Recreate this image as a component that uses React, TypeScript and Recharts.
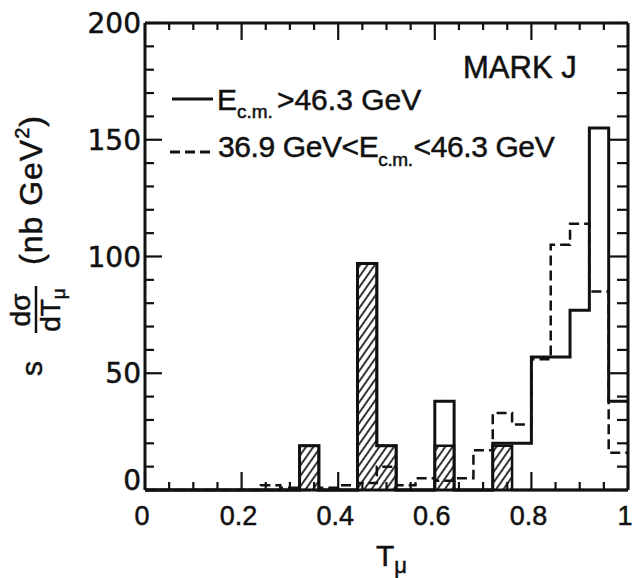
import React from "react";
import { ComposedChart, Line, Area, XAxis, YAxis, Legend, Label } from "recharts";

const W = 635;
const H = 578;
const INK = "#111";
const FONT = "'Liberation Sans', Arial, sans-serif";

// chart layout (the plot box below follows from these)
const MARGIN = { top: 22, right: 6, bottom: 0, left: 0 };
const LEFT_W = 145;
const RIGHT_W = 1;
const BOTTOM_H = 88;
const TOP_H = 1;
const PLOT = {
  left: MARGIN.left + LEFT_W,
  right: W - MARGIN.right - RIGHT_W,
  top: MARGIN.top + TOP_H,
  bottom: H - MARGIN.bottom - BOTTOM_H,
};
const X_MAX = 1;
const Y_MAX = 200;

// lower edge of each T_mu bin (bins are 0.04 wide above 0.2)
const binStart = [0, 0.2, 0.24, 0.28, 0.32, 0.36, 0.4, 0.44, 0.48, 0.52, 0.56, 0.6, 0.64, 0.68, 0.72, 0.76, 0.8, 0.84, 0.88, 0.92, 0.96];
const binEnd = 1;
// E_cm > 46.3 GeV (solid outline)
const highE = [0, 0, 0, 0, 19, 0, 0, 97, 19, 0, 0, 38, 0, 0, 20, 20, 57, 57, 77, 155, 38];
// hatched part
const hatched = [0, 0, 0, 0, 19, 0, 0, 97, 19, 0, 0, 19, 0, 0, 19, 0, 0, 0, 0, 0, 0];
// 36.9 GeV < E_cm < 46.3 GeV (dashed)
const midE = [0, 0, 2, 1, 0, 1, 2, 3, 10, 2, 5, 4, 5, 17, 33, 28, 56, 105, 114, 85, 16];

const xTicks = [0, 0.05, 0.1, 0.15, 0.2, 0.25, 0.3, 0.35, 0.4, 0.45, 0.5, 0.55, 0.6, 0.65, 0.7, 0.75, 0.8, 0.85, 0.9, 0.95, 1];
const xLabels: [number, string][] = [[0, "0"], [0.2, "0.2"], [0.4, "0.4"], [0.6, "0.6"], [0.8, "0.8"], [1, "1"]];
const yTicks = [0, 10, 20, 30, 40, 50, 60, 70, 80, 90, 100, 110, 120, 130, 140, 150, 160, 170, 180, 190, 200];
const yLabels = [0, 50, 100, 150, 200];

// step data: one point per bin start, plus the closing edge
const data = [
  ...binStart.map((x, i) => ({ x, highE: highE[i], midE: midE[i], hatched: hatched[i] })),
  { x: binEnd, highE: highE[highE.length - 1], midE: midE[midE.length - 1], hatched: hatched[hatched.length - 1] },
];

const xLabelFor = (v: number) => xLabels.find(([lv]) => Math.abs(lv - v) < 1e-6)?.[1] ?? "";
const isXMajor = (v: number) => xLabelFor(v) !== "";
const isYMajor = (v: number) => v % 50 === 0;
const px = (v: number) => PLOT.left + (v / X_MAX) * (PLOT.right - PLOT.left);
const py = (v: number) => PLOT.bottom - (v / Y_MAX) * (PLOT.bottom - PLOT.top);

function BottomTick(p: any) {
  return (
    <text x={p.x - 3} y={p.y + 35} textAnchor="middle" fontFamily={FONT} fontSize={27} fill={INK} stroke={INK} strokeWidth={0.5}>
      {xLabelFor(p.payload.value)}
    </text>
  );
}

function LeftTick(p: any) {
  const v = p.payload.value;
  return (
    <text x={p.x - 4} y={v === 0 ? p.y : p.y + 10} textAnchor="end" fontFamily="'DejaVu Sans', sans-serif" fontSize={28} fill={INK} stroke={INK} strokeWidth={0.5}>
      {yLabels.includes(v) ? String(v) : ""}
    </text>
  );
}

function YTitle({ viewBox }: any) {
  const cx = viewBox.x + 42;
  const cy = viewBox.y + viewBox.height - 112;
  return (
    <g transform={`translate(${cx},${cy}) rotate(-90)`} fontFamily={FONT} fill={INK} stroke={INK} strokeWidth={0.5}>
      <text x={2} y={0} fontSize={30}>s</text>
      <text x={68} y={-12} fontSize={28} textAnchor="middle">dσ</text>
      <line x1={45} x2={92} y1={-6} y2={-6} stroke={INK} strokeWidth={2.5} />
      <text x={68} y={18} fontSize={28} textAnchor="middle">
        dT<tspan fontSize={19} dy={5}>μ</tspan>
      </text>
      <text x={113} y={0} fontSize={32} letterSpacing={1}>
        (nb  GeV<tspan fontSize={20} dy={-13}>2</tspan>
        <tspan dy={13}>)</tspan>
      </text>
    </g>
  );
}

function XTitle({ viewBox }: any) {
  return (
    <text x={viewBox.x + 231} y={viewBox.y + 76} fontFamily={FONT} fontSize={30} fill={INK} stroke={INK} strokeWidth={0.5}>
      T<tspan fontSize={22} dy={7}>μ</tspan>
    </text>
  );
}

// inward tick marks on the four sides of the frame
function FrameTicks() {
  return (
    <g stroke={INK} strokeWidth={2.2}>
      {xTicks.map((v) => {
        const major = isXMajor(v);
        return (
          <g key={`x${v}`}>
            <line x1={px(v)} x2={px(v)} y1={PLOT.bottom} y2={PLOT.bottom - (major ? 18 : 8)} />
            <line x1={px(v)} x2={px(v)} y1={PLOT.top} y2={PLOT.top + (major ? 17 : 7)} />
          </g>
        );
      })}
      {yTicks.map((v) => {
        const major = isYMajor(v);
        return (
          <g key={`y${v}`}>
            <line x1={PLOT.left} x2={PLOT.left + (major ? 17 : 9)} y1={py(v)} y2={py(v)} />
            <line x1={PLOT.right} x2={PLOT.right - (major ? 18 : 11)} y1={py(v)} y2={py(v)} />
          </g>
        );
      })}
    </g>
  );
}

function LegendBox() {
  return (
    <svg width={W} height={H} style={{ display: "block" }}>
      <FrameTicks />
      <g fontFamily={FONT} fill={INK} stroke={INK} strokeWidth={0.5}>
        <text x={463} y={78} fontSize={31}>MARK J</text>
        <text x={217} y={110} fontSize={30}>
          E<tspan fontSize={19} dy={8}>c.m.</tspan>
          <tspan dy={-8} dx={4}>&gt;46.3 GeV</tspan>
        </text>
        <text x={218} y={157} fontSize={30} letterSpacing={-0.4}>
          36.9 GeV&lt;E<tspan fontSize={19} dy={9}>c.m.</tspan>
          <tspan dy={-9} dx={1}>&lt;46.3 GeV</tspan>
        </text>
      </g>
      <line x1={172} x2={213} y1={99} y2={99} stroke={INK} strokeWidth={3} />
      <line x1={170} x2={212} y1={152} y2={152} stroke={INK} strokeWidth={3} strokeDasharray="10 5" />
    </svg>
  );
}

export default function App() {
  return (
    <div style={{ position: "absolute", left: 0, top: 0, width: W, height: H, background: "#fff" }}>
      <ComposedChart width={W} height={H} data={data} margin={MARGIN}>
        <defs>
          <pattern id="hatch" patternUnits="userSpaceOnUse" width={6} height={6} patternTransform="rotate(35)">
            <line x1={3} y1={0} x2={3} y2={6} stroke={INK} strokeWidth={1.7} />
          </pattern>
        </defs>
        <XAxis
          xAxisId="bottom"
          dataKey="x"
          type="number"
          domain={[0, X_MAX]}
          ticks={xTicks}
          interval={0}
          height={BOTTOM_H}
          tickSize={0}
          tickMargin={0}
          tickLine={false}
          axisLine={{ stroke: INK, strokeWidth: 3 }}
          tick={(p: any) => <BottomTick {...p} />}
        >
          <Label content={XTitle} />
        </XAxis>
        <XAxis
          xAxisId="top"
          orientation="top"
          dataKey="x"
          type="number"
          domain={[0, X_MAX]}
          height={TOP_H}
          tick={false}
          tickLine={false}
          axisLine={{ stroke: INK, strokeWidth: 3 }}
        />
        <YAxis
          yAxisId="left"
          type="number"
          domain={[0, Y_MAX]}
          ticks={yTicks}
          interval={0}
          width={LEFT_W}
          tickSize={0}
          tickMargin={0}
          tickLine={false}
          axisLine={{ stroke: INK, strokeWidth: 3 }}
          tick={(p: any) => <LeftTick {...p} />}
        >
          <Label content={YTitle} />
        </YAxis>
        <YAxis
          yAxisId="right"
          orientation="right"
          type="number"
          domain={[0, Y_MAX]}
          width={RIGHT_W}
          tick={false}
          tickLine={false}
          axisLine={{ stroke: INK, strokeWidth: 3 }}
        />
        <Area
          xAxisId="bottom"
          yAxisId="left"
          type="stepAfter"
          dataKey="hatched"
          baseValue={0}
          fill="url(#hatch)"
          fillOpacity={1}
          stroke={INK}
          strokeWidth={2.5}
          dot={false}
          activeDot={false}
          isAnimationActive={false}
        />
        <Line
          xAxisId="bottom"
          yAxisId="left"
          type="stepAfter"
          dataKey="midE"
          stroke={INK}
          strokeWidth={2.5}
          strokeDasharray="10 5"
          dot={false}
          activeDot={false}
          isAnimationActive={false}
        />
        <Line
          xAxisId="bottom"
          yAxisId="left"
          type="stepAfter"
          dataKey="highE"
          stroke={INK}
          strokeWidth={3}
          dot={false}
          activeDot={false}
          isAnimationActive={false}
        />
        <Legend
          layout="horizontal"
          verticalAlign="middle"
          align="center"
          wrapperStyle={{ left: 0, top: 0, width: W, height: H, pointerEvents: "none" }}
          content={() => <LegendBox />}
        />
      </ComposedChart>
    </div>
  );
}
